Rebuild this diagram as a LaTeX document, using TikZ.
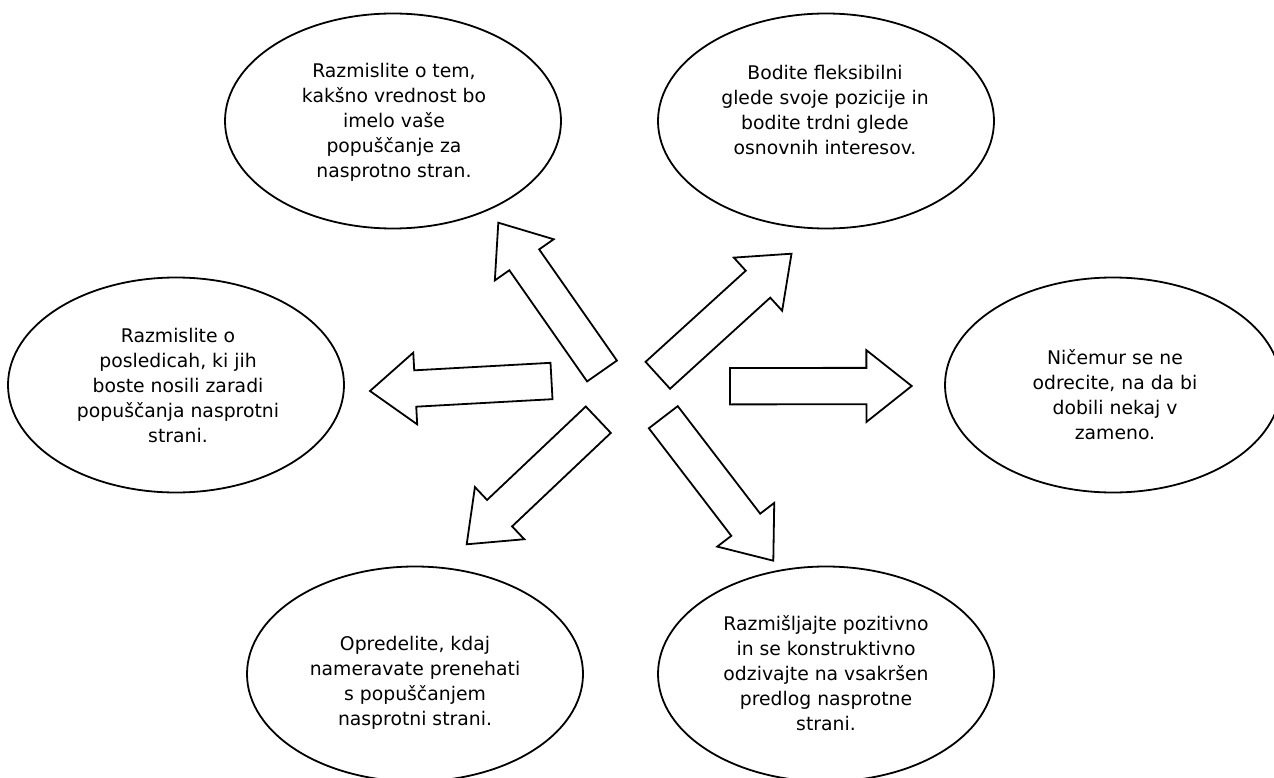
\documentclass[tikz,border=0pt]{standalone}
\usepackage{fontspec}
\setmainfont{DejaVu Sans}
\usetikzlibrary{
		calc,
		positioning,
		shapes.geometric
	}
\tikzset{
		>=stealth,
		idea/.style={draw, ellipse, line width=1.8pt, minimum width=336pt, minimum height=215pt, inner sep=0pt},
		idea text/.style={align=center, font=\fontsize{18.8}{25}\selectfont},
		blockarrow/.style={draw, line width=1.8pt, fill=white, line join=miter}
	}
% hollow block arrow from tail centre #1 to tip #2
\newcommand{\bigarrow}[2]{%
	\coordinate (#1-base) at ($(#2)!45.3pt!(#1)$);
	\draw[blockarrow] ($(#1)!18.2pt!90:(#2)$) -- ($(#1-base)!18.2pt!90:(#2)$)
		-- ($(#1-base)!35.9pt!90:(#2)$) -- (#2) -- ($(#1-base)!35.9pt!-90:(#2)$)
		-- ($(#1-base)!18.2pt!-90:(#2)$) -- ($(#1)!18.2pt!-90:(#2)$) -- cycle;
}

\begin{document}
\begin{tikzpicture}[x=1pt, y=-1pt]
    \useasboundingbox (0,0) rectangle (1274,778);
    \fill[white] (0,0) rectangle (1274,778);

    % draw the ellipses
    \node[idea] (e1) at (393,121) {};
    \node[idea] (e2) at (826,121) {};
    \node[idea] (e3) at (176,385) {};
    \node[idea] (e4) at (1113,385) {};
    \node[idea] (e5) at (415,674) {};
    \node[idea] (e6) at (826,674) {};

    % the texts
    \node[idea text] (t1) at (394,122) {Razmislite o tem,\\kakšno vrednost bo\\imelo vaše\\popuščanje za\\nasprotno stran.};
    \node[idea text] (t2) at (825,110) {Bodite fleksibilni\\glede svoje pozicije in\\bodite trdni glede\\osnovnih interesov.};
    \node[idea text] (t3) at (178,385) {Razmislite o\\posledicah, ki jih\\boste nosili zaradi\\popuščanja nasprotni\\strani.};
    \node[idea text] (t4) at (1115,395) {Ničemur se ne\\odrecite, na da bi\\dobili nekaj v\\zameno.};
    \node[idea text] (t5) at (415,683) {Opredelite, kdaj\\nameravate prenehati\\s popuščanjem\\nasprotni strani.};
    \node[idea text] (t6) at (826,673) {Razmišljajte pozitivno\\in se konstruktivno\\odzivajte na vsakršen\\predlog nasprotne\\strani.};

    % tails and tips of the arrows
    \coordinate (s1) at (602,371);     \coordinate (p1) at (498.3,222.7);
    \coordinate (s2) at (657.8,375.3); \coordinate (p2) at (791.5,253.7);
    \coordinate (s3) at (551.5,381);   \coordinate (p3) at (370,391);
    \coordinate (s4) at (730,386.2);   \coordinate (p4) at (911.7,386);
    \coordinate (s5) at (598.3,419.7); \coordinate (p5) at (466.7,544.3);
    \coordinate (s6) at (663.3,417.2); \coordinate (p6) at (773.3,560.7);

    % draw the arrows
    \bigarrow{s1}{p1}
    \bigarrow{s2}{p2}
    \bigarrow{s3}{p3}
    \bigarrow{s4}{p4}
    \bigarrow{s5}{p5}
    \bigarrow{s6}{p6}

\end{tikzpicture}
\end{document}
